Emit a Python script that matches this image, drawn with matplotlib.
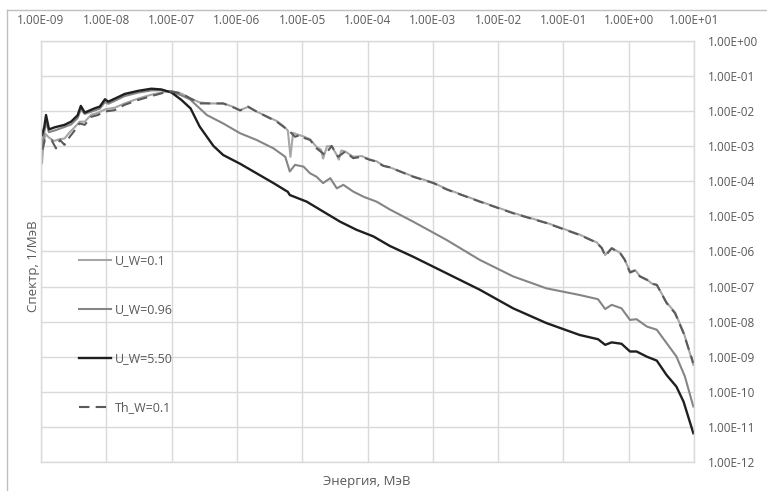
import matplotlib
matplotlib.use("Agg")
import matplotlib.pyplot as plt
from matplotlib.lines import Line2D
from matplotlib.ticker import NullLocator
import numpy as np

plt.rcParams['font.family'] = ['Open Sans', 'DejaVu Sans']

# --- Data (log10 of energy in MeV and of spectrum in 1/MeV) ---
u01_logE = [-8.985, -8.96, -8.93, -8.88, -8.80, -8.72, -8.64, -8.56, -8.48, -8.41, -8.33, -8.23,
            -8.13, -8.02, -7.87, -7.72, -7.51, -7.31, -7.11, -7.00, -6.85, -6.72, -6.57, -6.41,
            -6.21, -6.08, -5.95, -5.83, -5.70, -5.54, -5.39, -5.29, -5.22, -5.18, -5.14, -5.08,
            -4.98, -4.88, -4.78, -4.71, -4.68, -4.62, -4.55, -4.47, -4.44, -4.40, -4.34, -4.22,
            -4.09, -3.96, -3.86, -3.76, -3.66, -3.30, -2.99, -2.79, -2.28, -1.77, -1.26, -0.75,
            -0.49, -0.41, -0.36, -0.26, -0.13, -0.06, 0.02, 0.10, 0.17, 0.28, 0.35, 0.43,
            0.58, 0.71, 0.84, 0.99]
u01_logS = [-3.48, -2.90, -2.65, -2.75, -2.85, -2.80, -2.78, -2.60, -2.45, -2.30, -2.30, -2.10,
            -2.05, -1.95, -1.90, -1.78, -1.64, -1.53, -1.45, -1.43, -1.50, -1.63, -1.75, -1.78,
            -1.78, -1.86, -1.97, -1.88, -2.01, -2.15, -2.28, -2.42, -2.55, -3.30, -2.62, -2.66,
            -2.72, -2.80, -3.02, -3.10, -3.35, -3.00, -3.00, -3.25, -3.38, -3.12, -3.15, -3.30,
            -3.28, -3.38, -3.43, -3.55, -3.60, -3.86, -4.04, -4.22, -4.57, -4.90, -5.18, -5.52,
            -5.74, -5.90, -6.10, -5.90, -6.04, -6.23, -6.58, -6.53, -6.70, -6.80, -6.91, -6.95,
            -7.45, -7.74, -8.30, -9.23]

u096_logE = [-8.985, -8.95, -8.92, -8.88, -8.79, -8.64, -8.54, -8.44, -8.39, -8.33, -8.18, -8.10,
             -8.02, -7.97, -7.82, -7.72, -7.51, -7.31, -7.16, -7.00, -6.85, -6.72, -6.46, -6.21,
             -5.95, -5.70, -5.44, -5.26, -5.19, -5.11, -4.98, -4.88, -4.78, -4.68, -4.57, -4.47,
             -4.37, -4.22, -4.06, -3.86, -3.66, -3.30, -2.79, -2.28, -1.77, -1.26, -0.75, -0.47,
             -0.36, -0.26, -0.11, 0.02, 0.12, 0.28, 0.43, 0.58, 0.73, 0.86, 0.99]
u096_logS = [-3.00, -2.60, -2.30, -2.60, -2.55, -2.45, -2.38, -2.20, -1.95, -2.08, -1.98, -1.93,
             -1.74, -1.79, -1.66, -1.57, -1.47, -1.41, -1.40, -1.45, -1.55, -1.66, -2.11, -2.35,
             -2.63, -2.82, -3.06, -3.30, -3.72, -3.53, -3.58, -3.77, -3.87, -4.05, -3.91, -4.20,
             -4.10, -4.29, -4.44, -4.58, -4.80, -5.15, -5.67, -6.24, -6.71, -7.05, -7.24, -7.36,
             -7.64, -7.52, -7.62, -7.95, -7.93, -8.14, -8.23, -8.61, -8.99, -9.56, -10.42]

u550_logE = [-8.985, -8.95, -8.923, -8.877, -8.79, -8.64, -8.54, -8.44, -8.39, -8.33, -8.18, -8.10,
             -8.02, -7.97, -7.82, -7.72, -7.51, -7.31, -7.16, -7.00, -6.85, -6.71, -6.57, -6.36,
             -6.21, -5.95, -5.70, -5.44, -5.22, -5.19, -4.93, -4.68, -4.42, -4.17, -3.91, -3.66,
             -3.30, -2.79, -2.28, -1.77, -1.26, -0.75, -0.47, -0.36, -0.26, -0.11, 0.02, 0.12,
             0.28, 0.43, 0.58, 0.73, 0.84, 0.99]
u550_logS = [-2.68, -2.45, -2.11, -2.52, -2.46, -2.39, -2.30, -2.12, -1.85, -2.04, -1.92, -1.87,
             -1.66, -1.73, -1.60, -1.51, -1.42, -1.36, -1.38, -1.47, -1.68, -1.92, -2.44, -2.99,
             -3.25, -3.50, -3.77, -4.05, -4.30, -4.39, -4.58, -4.86, -5.15, -5.38, -5.57, -5.84,
             -6.15, -6.62, -7.09, -7.62, -8.04, -8.38, -8.50, -8.66, -8.59, -8.63, -8.85, -8.85,
             -9.00, -9.11, -9.52, -9.85, -10.28, -11.18]

th01_logE = [-8.98, -8.94, -8.84, -8.77, -8.71, -8.64, -8.56, -8.48, -8.41, -8.33, -8.23, -8.13,
             -8.02, -7.87, -7.72, -7.51, -7.31, -7.11, -7.00, -6.85, -6.72, -6.57, -6.41, -6.21,
             -6.08, -5.95, -5.83, -5.70, -5.54, -5.39, -5.29, -5.19, -5.11, -5.03, -4.96, -4.88,
             -4.78, -4.65, -4.55, -4.45, -4.34, -4.22, -4.09, -3.96, -3.86, -3.76, -3.66, -3.30,
             -2.99, -2.79, -2.28, -1.77, -1.26, -0.75, -0.49, -0.41, -0.36, -0.26, -0.13, -0.06,
             0.02, 0.10, 0.17, 0.28, 0.35, 0.43, 0.58, 0.71, 0.84, 0.99]
th01_logS = [-3.10, -2.82, -2.82, -3.06, -2.82, -2.96, -2.73, -2.54, -2.35, -2.39, -2.16, -2.11,
             -2.01, -1.97, -1.82, -1.68, -1.57, -1.47, -1.44, -1.49, -1.63, -1.78, -1.78, -1.78,
             -1.87, -1.98, -1.87, -2.01, -2.16, -2.30, -2.44, -2.58, -2.73, -2.68, -2.77, -2.82,
             -3.06, -3.25, -2.99, -3.30, -3.15, -3.34, -3.30, -3.39, -3.44, -3.56, -3.60, -3.87,
             -4.05, -4.23, -4.58, -4.91, -5.19, -5.53, -5.75, -5.91, -6.13, -5.91, -6.05, -6.24,
             -6.60, -6.54, -6.71, -6.81, -6.92, -6.95, -7.47, -7.76, -8.33, -9.18]

x_ticks = [1e-9, 1e-8, 1e-7, 1e-6, 1e-5, 1e-4, 1e-3, 1e-2, 1e-1, 1e0, 1e1]
y_ticks = [1e-12, 1e-11, 1e-10, 1e-9, 1e-8, 1e-7, 1e-6, 1e-5, 1e-4, 1e-3, 1e-2, 1e-1, 1e0]

TXT = '#595959'

fig = plt.figure(figsize=(7.67, 4.91), dpi=100)
ax = fig.add_axes([41 / 767, 1 - 462 / 491, 653 / 767, 421 / 491])

ax.plot(10.0 ** np.array(u01_logE), 10.0 ** np.array(u01_logS), color='#a6a6a6', lw=1.5, label='U_W=0.1')
ax.plot(10.0 ** np.array(u096_logE), 10.0 ** np.array(u096_logS), color='#858585', lw=1.5, label='U_W=0.96')
ax.plot(10.0 ** np.array(u550_logE), 10.0 ** np.array(u550_logS), color='#1f1f1f', lw=1.7, label='U_W=5.50')
ax.plot(10.0 ** np.array(th01_logE), 10.0 ** np.array(th01_logS), color='#5a5a5a', lw=1.5,
        ls=(0, (5, 3)), label='Th_W=0.1')

ax.set_xscale('log')
ax.set_yscale('log')
ax.set_xlim(1e-9, 1e1)
ax.set_ylim(1e-12, 1e0)
ax.set_xticks(x_ticks)
ax.set_xticklabels([f"{v:.2E}" for v in x_ticks])
ax.set_yticks(y_ticks)
ax.set_yticklabels([f"{v:.2E}" for v in y_ticks])
ax.xaxis.set_minor_locator(NullLocator())
ax.yaxis.set_minor_locator(NullLocator())
ax.xaxis.tick_top()
ax.yaxis.tick_right()
ax.tick_params(length=0, pad=10, labelcolor=TXT, labelsize=8.5)
ax.grid(True, color='#d9d9d9', lw=1)
ax.set_axisbelow(True)
for s in ax.spines.values():
    s.set_color('#d9d9d9')
    s.set_linewidth(1)

leg = ax.legend(loc='upper left', bbox_to_anchor=(0.058, 0.493), bbox_transform=ax.transAxes,
                frameon=False, fontsize=9, handlelength=2.6, handletextpad=0.3,
                labelspacing=2.88, borderpad=0, borderaxespad=0)
for t in leg.get_texts():
    t.set_color(TXT)

fig.text(34 / 767, 1 - 266 / 491, 'Спектр, 1/МэВ', rotation=90, ha='center', va='center',
         color=TXT, fontsize=9.5)
fig.text(367 / 767, 1 - 481 / 491, 'Энергия, МэВ', ha='center', va='center', color=TXT, fontsize=9.5)

# chart frame (only left and top edges visible)
fig.add_artist(Line2D([7 / 767, 7 / 767], [0, 1 - 10 / 491], transform=fig.transFigure, color='#bfbfbf', lw=1))
fig.add_artist(Line2D([7 / 767, 1], [1 - 10 / 491, 1 - 10 / 491], transform=fig.transFigure, color='#bfbfbf', lw=1))

fig.savefig('out.png', dpi=100)
